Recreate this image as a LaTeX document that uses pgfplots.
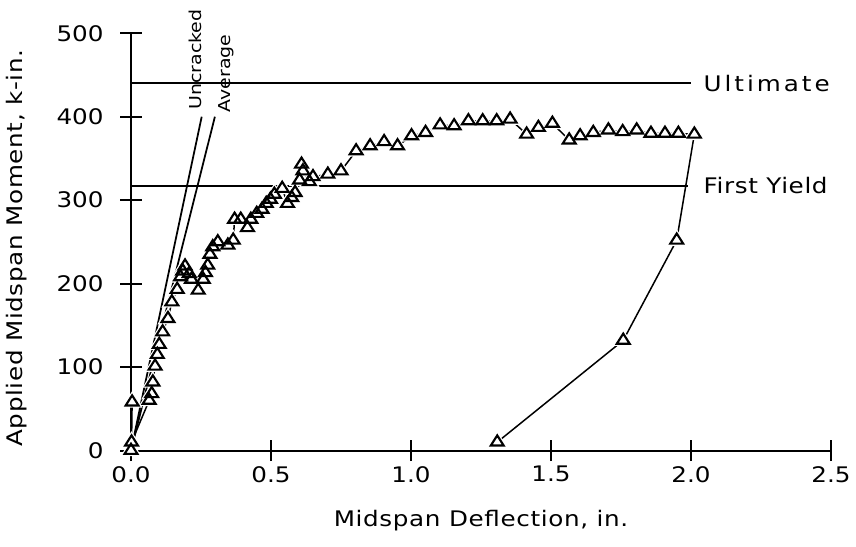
\documentclass[border=0pt]{standalone}
\usepackage{fontspec}
\setmainfont{DejaVu Sans}[FakeStretch=1.15]
\usepackage{pgfplots}
\usepackage{pgfplotstable}
\pgfplotsset{compat=1.18}
\newcommand\fs{\fontsize{8.6}{10}\selectfont}
\newcommand\fsl{\fontsize{8.6}{10}\selectfont\addfontfeature{LetterSpace=3}}
\newcommand\fss{\fontsize{6.6}{8}\selectfont}

\pgfplotstableread{
x y
0 0
0.004 58
0.002 10
0.065 60
0.074 68
0.078 82
0.086 101
0.094 115
0.101 127
0.113 142
0.132 158
0.146 178
0.165 193
0.177 208
0.185 215
0.193 221
0.208 212
0.216 205
0.240 192
0.258 205
0.266 213
0.274 222
0.282 235
0.292 244
0.310 250
0.346 246
0.365 252
0.370 277
0.392 277
0.416 267
0.428 277
0.449 284
0.468 289
0.483 296
0.498 301
0.512 307
0.540 314
0.559 296
0.574 303
0.586 309
0.602 324
0.609 343
0.614 335
0.637 322
0.650 328
0.703 331
0.750 335
0.804 359
0.854 365
0.904 370
0.952 365
1.002 377
1.052 381
1.104 390
1.154 389
1.205 395
1.256 395
1.306 395
1.354 397
1.413 379
1.455 387
1.505 392
1.565 372
1.604 377
1.651 381
1.705 384
1.756 382
1.806 384
1.857 380
1.907 380
1.955 380
2.012 379
1.949 252
1.758 132
1.308 10
}\testdata

\begin{document}
\begin{tikzpicture}
\path[use as bounding box] (-52.4bp,-38.6bp) rectangle (290bp,180.2bp);
\begin{axis}[
  at={(0,0)}, anchor=south west,
  scale only axis, width=280bp, height=166.9bp,
  xmin=0, xmax=2.5, ymin=0, ymax=500,
  axis lines=left,
  axis line style={-, line width=0.8bp},
  clip=false,
  xtick={0,0.5,1,1.5,2,2.5},
  ytick={0,100,200,300,400,500},
  tick align=center,
  major tick length=8.5bp,
  tick style={line width=0.8bp, black},
  /pgf/number format/assume math mode=true,
  xticklabel style={font=\fs, yshift=1.5bp, /pgf/number format/.cd, fixed, fixed zerofill, precision=1},
  yticklabel style={font=\fs, xshift=-3.2bp},
  xlabel={Midspan Deflection, in.},
  ylabel={Applied Midspan Moment, k-in.},
  xlabel style={font=\fsl, at={(axis description cs:0.5,0)}, anchor=center, yshift=-28bp},
  ylabel style={font=\fsl, at={(axis description cs:-0.163,0.485)}, anchor=center},
]
\addplot[line width=0.7bp] coordinates {(0,440) (2.0,440)};
\addplot[line width=0.7bp] coordinates {(0,317) (1.99,317)};
\addplot[line width=0.7bp] coordinates {(0,0) (0.2525,400)};
\addplot[line width=0.7bp] coordinates {(0,0) (0.2996,400)};
\addplot[line width=0.6bp, no marks] table[x=x,y=y] {\testdata};
\addplot[only marks, mark=triangle*, mark size=2.7bp, mark options={draw=white, fill=white, line width=1.8bp, xscale=1.1}] table[x=x,y=y] {\testdata};
\addplot[only marks, mark=triangle, mark size=2.7bp, mark options={draw=black, line width=0.85bp, xscale=1.1}] table[x=x,y=y] {\testdata};
\node[anchor=west, inner sep=0pt, font=\fs\addfontfeature{LetterSpace=14}] at (axis cs:2.043,440) {Ultimate};
\node[anchor=west, inner sep=0pt, font=\fsl] at (axis cs:2.043,317) {First Yield};
\node[rotate=90, anchor=base west, inner sep=0pt, font=\fss] at (axis cs:0.2525,408) {Uncracked};
\node[rotate=90, anchor=base west, inner sep=0pt, font=\fss] at (axis cs:0.354,405) {Average};
\end{axis}
\end{tikzpicture}
\end{document}
